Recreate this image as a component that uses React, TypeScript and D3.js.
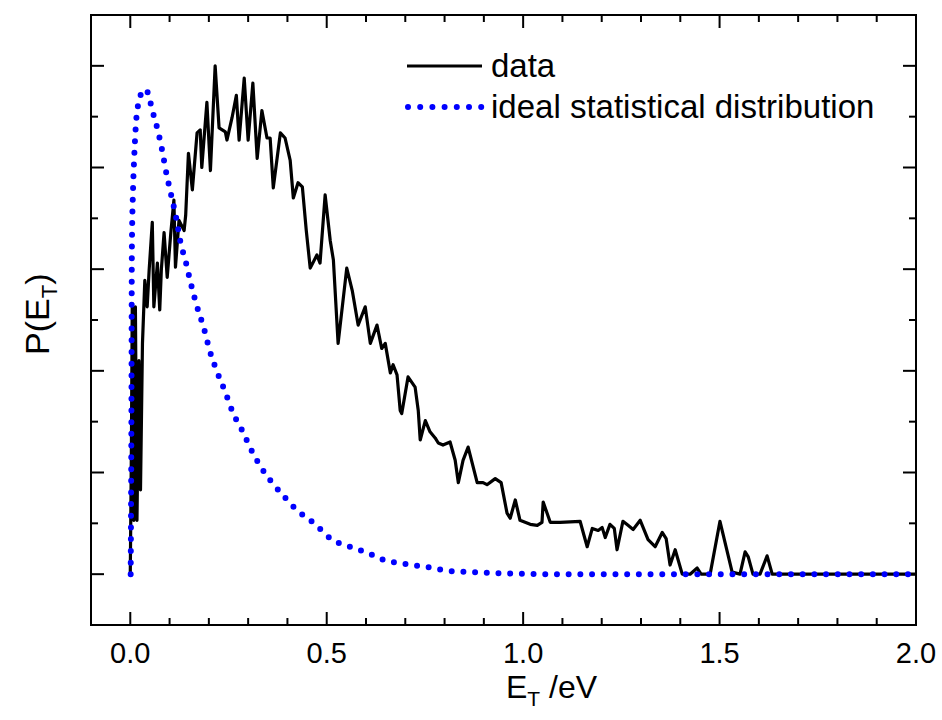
import React, { useEffect, useRef } from 'react';
import * as d3 from 'd3';

// measured spectrum, E_T in eV, P in arbitrary units (major tick = 1)
const dataE = [
  0.000, 0.003, 0.005, 0.009, 0.013, 0.017, 0.022, 0.026, 0.031, 0.037, 0.043, 0.048, 0.056, 0.060,
  0.069, 0.075, 0.079, 0.086, 0.094, 0.103, 0.111, 0.115, 0.124, 0.137, 0.141, 0.148, 0.158, 0.170,
  0.178, 0.182, 0.195, 0.204, 0.216, 0.226, 0.242, 0.246, 0.259, 0.270, 0.277, 0.290, 0.300, 0.312,
  0.323, 0.335, 0.348, 0.356, 0.364, 0.382, 0.394, 0.407, 0.415, 0.427, 0.438, 0.448, 0.458, 0.475,
  0.483, 0.496, 0.509, 0.517, 0.529, 0.551, 0.565, 0.580, 0.598, 0.611, 0.628, 0.640, 0.649, 0.662,
  0.669, 0.679, 0.687, 0.691, 0.707, 0.725, 0.733, 0.738, 0.751, 0.763, 0.776, 0.784, 0.796, 0.814,
  0.827, 0.835, 0.847, 0.860, 0.883, 0.898, 0.908, 0.929, 0.944, 0.959, 0.967, 0.980, 0.992, 1.005,
  1.018, 1.036, 1.048, 1.051, 1.069, 1.094, 1.145, 1.155, 1.163, 1.176, 1.191, 1.201, 1.209, 1.221,
  1.232, 1.239, 1.254, 1.267, 1.280, 1.298, 1.318, 1.336, 1.354, 1.364, 1.374, 1.387, 1.405, 1.425,
  1.443, 1.453, 1.476, 1.501, 1.532, 1.552, 1.565, 1.573, 1.585, 1.603, 1.621, 1.634, 2.000,
];
const dataP = [
  0.00, 1.32, 2.66, 0.53, 2.63, 0.53, 2.10, 0.83, 2.27, 2.89, 2.63, 2.99, 3.46, 2.63,
  3.06, 2.60, 2.99, 3.36, 2.92, 3.35, 3.68, 3.02, 3.48, 3.38, 3.53, 4.14, 3.78, 4.34,
  4.37, 4.00, 4.64, 3.97, 5.00, 4.39, 4.35, 4.27, 4.49, 4.71, 4.27, 4.88, 4.27, 4.83,
  4.09, 4.56, 4.29, 4.29, 3.80, 4.34, 4.29, 4.07, 3.70, 3.85, 3.81, 3.38, 3.01, 3.14,
  3.06, 3.73, 3.28, 3.09, 2.27, 3.01, 2.79, 2.45, 2.63, 2.27, 2.45, 2.22, 2.27, 1.98,
  2.06, 1.96, 1.61, 1.58, 1.94, 1.84, 1.61, 1.32, 1.51, 1.40, 1.34, 1.29, 1.27, 1.30,
  1.12, 0.90, 1.12, 1.25, 0.90, 0.90, 0.88, 0.94, 0.90, 0.60, 0.55, 0.73, 0.53, 0.51,
  0.49, 0.48, 0.51, 0.71, 0.51, 0.51, 0.52, 0.38, 0.27, 0.45, 0.43, 0.46, 0.36, 0.49,
  0.45, 0.24, 0.52, 0.48, 0.44, 0.53, 0.34, 0.27, 0.41, 0.35, 0.09, 0.24, 0.00, 0.00,
  0.06, 0.00, 0.00, 0.52, 0.02, 0.00, 0.22, 0.17, 0.00, 0.00, 0.18, 0.00, 0.00,
];

// ideal statistical distribution
const idealE = [
  0.001, 0.003, 0.004, 0.007, 0.010, 0.015, 0.021, 0.030, 0.038, 0.044, 0.050, 0.056, 0.062, 0.069,
  0.081, 0.092, 0.104, 0.117, 0.127, 0.142, 0.154, 0.170, 0.188, 0.202, 0.221, 0.242, 0.261, 0.284,
  0.307, 0.333, 0.361, 0.390, 0.424, 0.468, 0.513, 0.558, 0.604, 0.645, 0.700, 0.755, 0.814, 0.874,
  0.933, 1.069, 2.000,
];
const idealP = [
  0.00, 1.71, 3.19, 3.78, 4.10, 4.46, 4.64, 4.74, 4.77, 4.74, 4.66, 4.56, 4.48, 4.38,
  4.17, 3.94, 3.73, 3.50, 3.28, 3.06, 2.86, 2.63, 2.41, 2.20, 1.99, 1.79, 1.59, 1.42,
  1.23, 1.05, 0.90, 0.77, 0.63, 0.50, 0.34, 0.27, 0.21, 0.14, 0.10, 0.07, 0.03, 0.02,
  0.01, 0.00, 0.00,
];

const xTickLabels = ['0.0', '0.5', '1.0', '1.5', '2.0'];
const legendLabels = ['data', 'ideal statistical distribution'];

const FONT = '"Liberation Sans", Arial, sans-serif';

function App() {
  const svgRef = useRef<SVGSVGElement>(null);

  useEffect(() => {
    const svg = d3.select(svgRef.current);
    svg.selectAll('*').remove();

    const left = 91, right = 916, top = 15, bottom = 625;

    const x = d3.scaleLinear().domain([-0.1, 2.0]).range([left, right]);
    const y = d3.scaleLinear().domain([-0.5, 5.5]).range([bottom, top]);

    const g = svg.append('g');

    // ticks point inward on all four sides
    const xMajor = d3.range(0, 2.01, 0.5);
    const xMinor = d3.range(0, 2.01, 0.1).filter(v => Math.abs(v * 2 - Math.round(v * 2)) > 0.01);
    const yMajor = d3.range(0, 5.01, 1);
    const yMinor = d3.range(0.5, 5.5, 1);

    const tickG = g.append('g').attr('stroke', '#000').attr('stroke-width', 2);
    const addX = (vals: number[], len: number) => {
      vals.forEach(v => {
        tickG.append('line').attr('x1', x(v)).attr('x2', x(v)).attr('y1', bottom).attr('y2', bottom - len);
        tickG.append('line').attr('x1', x(v)).attr('x2', x(v)).attr('y1', top).attr('y2', top + len);
      });
    };
    const addY = (vals: number[], len: number) => {
      vals.forEach(v => {
        tickG.append('line').attr('y1', y(v)).attr('y2', y(v)).attr('x1', left).attr('x2', left + len);
        tickG.append('line').attr('y1', y(v)).attr('y2', y(v)).attr('x1', right).attr('x2', right - len);
      });
    };
    addX(xMajor, 13);
    addX(xMinor, 7);
    addY(yMajor, 13);
    addY(yMinor, 7);

    g.append('g')
      .selectAll('text')
      .data(xMajor)
      .join('text')
      .attr('x', d => x(d))
      .attr('y', 663)
      .attr('text-anchor', 'middle')
      .attr('font-family', FONT)
      .attr('font-size', 29)
      .attr('fill', '#000')
      .text((d, i) => xTickLabels[i]);

    const meas = d3.line<number>()
      .x(i => x(dataE[i]))
      .y(i => y(dataP[i]));
    const ideal = d3.line<number>()
      .x(i => x(idealE[i]))
      .y(i => y(idealP[i]))
      .curve(d3.curveMonotoneX);

    g.append('path')
      .datum(d3.range(dataE.length))
      .attr('fill', 'none')
      .attr('stroke', '#000')
      .attr('stroke-width', 3.2)
      .attr('stroke-linejoin', 'round')
      .attr('d', meas);

    g.append('path')
      .datum(d3.range(idealE.length))
      .attr('fill', 'none')
      .attr('stroke', '#0000ff')
      .attr('stroke-width', 6)
      .attr('stroke-linecap', 'round')
      .attr('stroke-dasharray', '0 11.7')
      .attr('d', ideal);

    // frame
    g.append('rect')
      .attr('x', left).attr('y', top)
      .attr('width', right - left).attr('height', bottom - top)
      .attr('fill', 'none').attr('stroke', '#000').attr('stroke-width', 2);

    // legend
    const lg = g.append('g');
    lg.append('line').attr('x1', 407).attr('x2', 482).attr('y1', 66).attr('y2', 66)
      .attr('stroke', '#000').attr('stroke-width', 3.2);
    lg.append('line').attr('x1', 408).attr('x2', 482).attr('y1', 107).attr('y2', 107)
      .attr('stroke', '#0000ff').attr('stroke-width', 6)
      .attr('stroke-linecap', 'round').attr('stroke-dasharray', '0 12.2');
    legendLabels.forEach((t, i) => {
      lg.append('text')
        .attr('x', 491).attr('y', 77 + i * 41)
        .attr('font-family', FONT).attr('font-size', 33).attr('fill', '#000')
        .text(t);
    });

    // axis titles
    const xt = g.append('text')
      .attr('x', 506).attr('y', 698)
      .attr('font-family', FONT).attr('font-size', 32).attr('fill', '#000');
    xt.append('tspan').text('E');
    xt.append('tspan').attr('font-size', 21).attr('dy', 8).text('T');
    xt.append('tspan').attr('dy', -8).text(' /eV');

    const yt = g.append('text')
      .attr('transform', 'translate(49,355) rotate(-90)')
      .attr('font-family', FONT).attr('font-size', 34).attr('fill', '#000');
    yt.append('tspan').text('P(E');
    yt.append('tspan').attr('font-size', 22).attr('dy', 8).text('T');
    yt.append('tspan').attr('dy', -8).text(')');
  }, []);

  return (
    <svg
      ref={svgRef}
      width={942}
      height={720}
      style={{ position: 'absolute', left: 0, top: 0, background: '#fff' }}
    />
  );
}

export default App;
